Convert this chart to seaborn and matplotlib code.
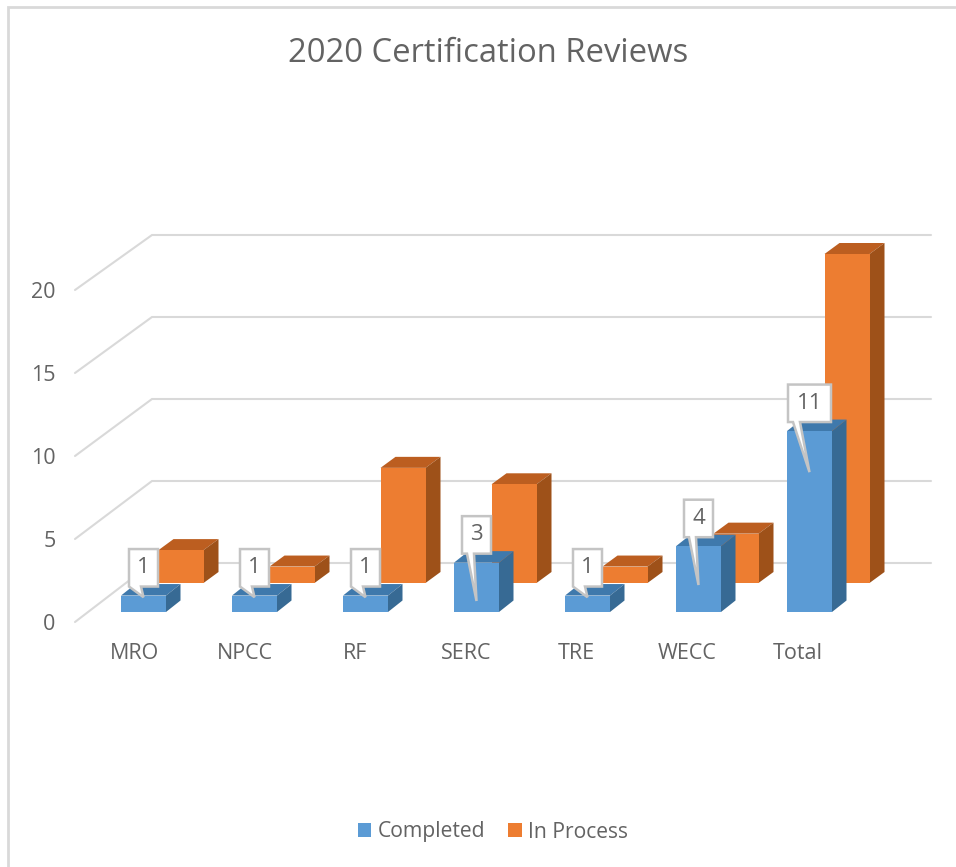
import numpy as np
import pandas as pd
import seaborn as sns
import matplotlib
matplotlib.use("Agg")
import matplotlib.pyplot as plt
from matplotlib.patches import Polygon, Patch
from matplotlib.lines import Line2D

# ---- data ----
categories = ["MRO", "NPCC", "RF", "SERC", "TRE", "WECC", "Total"]
completed = [1, 1, 1, 3, 1, 4, 11]
in_process = [2, 1, 7, 6, 1, 3, 20]
y_ticks = [0, 5, 10, 15, 20]
title = "2020 Certification Reviews"
series_names = ["Completed", "In Process"]
# value at which each callout's pointer ends on its bar
callout_tips = [0.9, 0.9, 0.9, 0.67, 0.9, 1.64, 8.5]

# ---- layout ----
W, H = 956, 867
PX_CAT = 111.0      # pixels per category
PX_VAL = 16.45      # pixels per value unit
X0_PX = 143.5       # pixel of first blue bar centre
Y0_PX = 612.0       # pixel of value 0 on blue bar baseline
AX_L, AX_R, AX_T, AX_B = 75, 932, 235, 622

BLUE, BLUE_TOP, BLUE_SIDE = "#5B9BD5", "#3F79AC", "#376A94"
ORANGE, ORANGE_TOP, ORANGE_SIDE = "#ED7D31", "#BC5E20", "#9E5119"
GRID = "#D9D9D9"
TEXT = "#636363"

sns.set_theme(style="white")
plt.rcParams["font.family"] = ["Open Sans", "DejaVu Sans"]

fig = plt.figure(figsize=(W / 100, H / 100), dpi=100, facecolor="white")
ax = fig.add_axes([AX_L / W, (H - AX_B) / H, (AX_R - AX_L) / W, (AX_B - AX_T) / H])

dx_px = lambda p: p / PX_CAT
dy_px = lambda p: p / PX_VAL

positions = np.arange(len(categories), dtype=float)
df = pd.DataFrame({"pos": positions, "completed": completed, "in_process": in_process})


def add_depth(bars, top_c, side_c, z, depth_x, depth_y, base):
    for b in bars:
        l, r = b.get_x(), b.get_x() + b.get_width()
        t = b.get_y() + b.get_height()
        dx, dy = dx_px(depth_x), dy_px(depth_y)
        ax.add_patch(Polygon([(l, t), (r, t), (r + dx, t + dy), (l + dx, t + dy)],
                             fc=top_c, ec="none", zorder=z, clip_on=False))
        ax.add_patch(Polygon([(r, base), (r + dx, base + dy), (r + dx, t + dy), (r, t)],
                             fc=side_c, ec="none", zorder=z, clip_on=False))
        b.set_zorder(z + 0.1)
        b.set_clip_on(False)


# orange series (back row)
orange_lift = dy_px(Y0_PX - 583)
orange_x = df["pos"] + dx_px(37.5)
sns.barplot(x=orange_x, y=df["in_process"], native_scale=True, width=45 / PX_CAT,
            color=ORANGE, saturation=1, bottom=orange_lift, ax=ax, linewidth=0,
            errorbar=None)
add_depth(list(ax.containers[0]), ORANGE_TOP, ORANGE_SIDE, 2, 15, 11, orange_lift)

# blue series (front row)
sns.barplot(x=df["pos"], y=df["completed"], native_scale=True, width=45 / PX_CAT,
            color=BLUE, saturation=1, ax=ax, linewidth=0, errorbar=None)
blue_bars = list(ax.containers[1])
add_depth(blue_bars, BLUE_TOP, BLUE_SIDE, 3, 14.5, 11.5, 0)

# scales
ax.set_xlim((AX_L - X0_PX) / PX_CAT, (AX_R - X0_PX) / PX_CAT)
ax.set_ylim((Y0_PX - AX_B) / PX_VAL, (Y0_PX - AX_T) / PX_VAL)
for s in ax.spines.values():
    s.set_visible(False)
ax.set_xlabel("")
ax.set_ylabel("")
ax.patch.set_alpha(0)

# front ends of the walls' gridlines (axis labels sit on these)
front = [(v * 16.6 - 10) / PX_VAL for v in y_ticks]
wall_lift = dy_px(Y0_PX - 563)
wall_x0 = (152 - X0_PX) / PX_CAT
wall_x1 = (931 - X0_PX) / PX_CAT
left_x = (AX_L - X0_PX) / PX_CAT
for v, fy in zip(y_ticks, front):
    wy = v * 16.4 / PX_VAL + wall_lift
    ax.plot([left_x, wall_x0, wall_x1], [fy, wy, wy], color=GRID, lw=1.5,
            zorder=1, clip_on=False, solid_joinstyle="miter")

ax.set_yticks(front, [str(v) for v in y_ticks])
ax.set_xticks(positions * 0.997 - 0.085, categories)
ax.tick_params(axis="y", length=0, pad=14, labelsize=15.5, labelcolor=TEXT)
ax.tick_params(axis="x", length=0, pad=15, labelsize=15.5, labelcolor=TEXT)

# callouts
for bar, val, tip in zip(blue_bars, completed, callout_tips):
    cx = bar.get_x() + bar.get_width() / 2
    label = str(val)
    half_w = dx_px(21.5 if len(label) > 1 else 14.5)
    bot = val + dy_px(9)
    top = bot + dy_px(37.5)
    left, right = cx - half_w, cx + half_w
    short = val == 1
    base_l = left if short else left + dx_px(5)
    base_r = left + dx_px(12)
    pts = [(left, top), (right, top), (right, bot), (base_r, bot),
           (cx, tip), (base_l, bot), (left, bot)]
    ax.add_patch(Polygon(pts, closed=True, fc="white", ec="#C4C4C4", lw=1.8,
                         zorder=5, clip_on=False, joinstyle="miter"))
    ax.text(cx, (top + bot) / 2, label, ha="center", va="center", fontsize=16,
            color=TEXT, zorder=6)

fig.text(488 / W, 1 - 53 / H, title, ha="center", va="center", fontsize=23.6, color=TEXT)

handles = [Patch(fc=BLUE, ec="none"), Patch(fc=ORANGE, ec="none")]
fig.legend(handles, series_names, loc="center", bbox_to_anchor=(493 / W, 1 - 832 / H),
           ncol=2, frameon=False, fontsize=15.2, labelcolor=TEXT, handlelength=0.62,
           handleheight=0.62, handletextpad=0.3, columnspacing=1.1)

# chart-area frame (top and left edges visible)
fig.add_artist(Line2D([8 / W, 8 / W, 955 / W], [0, 1 - 7 / H, 1 - 7 / H], color=GRID, lw=2,
                      solid_joinstyle="miter"))

fig.savefig("out.png", dpi=100, facecolor="white")
